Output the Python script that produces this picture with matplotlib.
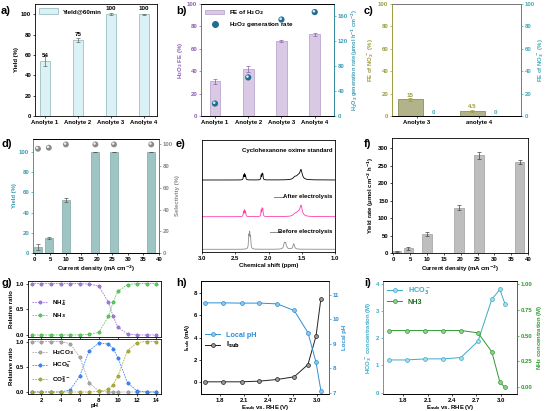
import numpy as np
import matplotlib
matplotlib.use('Agg')
import matplotlib.pyplot as plt
from matplotlib.transforms import offset_copy
from matplotlib.patches import Patch
from matplotlib.lines import Line2D

plt.rcParams['font.family'] = ['Liberation Sans', 'DejaVu Sans']
plt.rcParams['font.weight'] = 'bold'
plt.rcParams['axes.labelweight'] = 'bold'
plt.rcParams['font.size'] = 4.3
plt.rcParams['axes.linewidth'] = 0.6
plt.rcParams['xtick.major.width'] = 0.5
plt.rcParams['ytick.major.width'] = 0.5
plt.rcParams['xtick.major.size'] = 1.5
plt.rcParams['ytick.major.size'] = 1.5
plt.rcParams['xtick.major.pad'] = 1.2
plt.rcParams['ytick.major.pad'] = 1.2
plt.rcParams['axes.labelpad'] = 1.5
plt.rcParams['mathtext.default'] = 'bf'

# ---------------- data ----------------
anolytes = ['Anolyte 1', 'Anolyte 2', 'Anolyte 3', 'Anolyte 4']
yield60 = [54, 75, 100, 100]
yield60_err = [4.5, 2, 1, 0.5]
fe_h2o2 = [31, 42, 67, 73]
fe_h2o2_err = [2, 3, 1, 1.5]
h2o2_rate = [20, 62, 155, 167]

c_cats = ['Anolyte 3', 'anolyte 4']
fe_no2 = [15, 4.5]
fe_no2_err = [1.5, 0.8]
fe_no3 = [0, 0]

current_density = [1, 4.5, 10, 19.5, 25.5, 37.5]
cd_yield = [6, 15, 53, 100, 100, 100]
cd_yield_err = [3, 1, 2, 0, 0, 0]
selectivity = [96, 97, 100, 100, 100, 100]
yield_rate = [5, 13, 54, 130, 280, 261]
yield_rate_err = [2, 4, 6, 8, 9, 5]

# NMR peak lists: positions (ppm), heights, half widths
std_pos = [2.375, 2.36, 2.345, 2.11, 2.095, 2.085, 1.60, 1.55, 1.51]
std_h = [4.5, 5.5, 4.5, 4.5, 5.5, 5.0, 2.5, 3.5, 9.0]
std_w = [0.005, 0.005, 0.005, 0.005, 0.005, 0.005, 0.03, 0.03, 0.02]
aft_pos = [2.375, 2.36, 2.345, 2.11, 2.095, 2.085, 1.60, 1.55, 1.51]
aft_h = [5.0, 6.0, 5.0, 6.0, 7.0, 6.5, 2.5, 3.5, 10.0]
aft_w = [0.005, 0.005, 0.005, 0.005, 0.005, 0.005, 0.03, 0.03, 0.02]
bef_pos = [2.295, 2.283, 2.27, 1.76, 1.74, 1.62]
bef_h = [12, 14, 11, 5.5, 5.0, 5.5]
bef_w = [0.006, 0.006, 0.006, 0.013, 0.013, 0.013]
baseline_std, baseline_aft, baseline_bef = 72, 35.3, 2.7

ph = [1, 2, 3, 4, 5, 6, 7, 8, 9, 9.5, 10, 11, 12, 13, 14]
nh4 = [1, 1, 1, 1, 1, 1, 0.99, 0.95, 0.64, 0.36, 0.15, 0.02, 0, 0, 0]
nh3 = [0, 0, 0, 0, 0, 0, 0.01, 0.05, 0.36, 0.64, 0.85, 0.98, 1, 1, 1]
h2co3 = [1, 1, 1, 1, 0.96, 0.69, 0.18, 0.02, 0, 0, 0, 0, 0, 0, 0]
hco3 = [0, 0, 0, 0, 0.04, 0.31, 0.82, 0.97, 0.95, 0.86, 0.68, 0.18, 0.02, 0, 0]
co3 = [0, 0, 0, 0, 0, 0, 0, 0.01, 0.05, 0.14, 0.32, 0.82, 0.98, 1, 1]

e_sub = [1.62, 1.84, 2.07, 2.29, 2.51, 2.72, 2.89, 2.99, 3.05]
i_sub = [0, 0, 0, 0.06, 0.21, 0.45, 1.56, 4.13, 7.51]
local_ph = [10.66, 10.66, 10.65, 10.65, 10.62, 10.35, 9.45, 8.24, 7.09]
hco3_conc = [1.2, 1.2, 1.24, 1.24, 1.29, 1.89, 3.43, 3.79, 3.27]
nh3_conc = [0.548, 0.548, 0.548, 0.548, 0.548, 0.526, 0.343, 0.048, 0.0]

# ---------------- figure ----------------
W, H = 546, 411
fig = plt.figure(figsize=(W / 100, H / 100), dpi=100)


def ax_px(x0, y0, x1, y1):
    return fig.add_axes([x0 / W, 1 - y1 / H, (x1 - x0) / W, (y1 - y0) / H])


def sphere(ax, x, y, color, s=20, hl='white'):
    ax.scatter(x, y, s=s, color=color, edgecolors='none', zorder=5, clip_on=False)
    tr = offset_copy(ax.transData, fig=fig, x=-0.6, y=0.6, units='points')
    ax.scatter(x, y, s=s * 0.18, color=hl, alpha=0.85, edgecolors='none',
               zorder=6, transform=tr, clip_on=False)


def color_axis(ax, side, color):
    ax.spines[side].set_color(color)
    ax.tick_params(axis='y', colors=color)
    ax.yaxis.label.set_color(color)


def plabel(x, y, s):
    fig.text(x / W, 1 - y / H, s, fontsize=8, fontweight='bold', va='center')


# ---- a ----
axa = ax_px(35, 4, 157, 116)
xa = np.arange(len(anolytes))
axa.bar(xa, yield60, width=0.3, color='#daf2f5', edgecolor='#9cbfc2', linewidth=0.6,
        label='Yield@60min')
axa.errorbar(xa, yield60, yerr=yield60_err, fmt='none', ecolor='#666666',
             elinewidth=0.5, capsize=1.2, capthick=0.5)
for xi, v in zip(xa, yield60):
    axa.text(xi, v + 3, str(v), ha='center', va='bottom', fontsize=4.5)
axa.set_xlim(-0.3, 3.4)
axa.set_ylim(0, 110)
axa.set_yticks([0, 20, 40, 60, 80, 100])
axa.set_xticks(xa)
axa.set_xticklabels(anolytes)
axa.set_ylabel('Yield (%)')
axa.legend(loc='upper left', frameon=False, handlelength=3.0, handleheight=1.1,
           borderaxespad=0.3, fontsize=4.5)

# ---- b ----
axb = ax_px(201, 4, 334, 116)
purple = '#8b5fb5'
teal_b = '#3b9db6'
axb.bar(xa, fe_h2o2, width=0.32, color='#d9c9e4', edgecolor='#bba8cc', linewidth=0.6)
axb.errorbar(xa, fe_h2o2, yerr=fe_h2o2_err, fmt='none', ecolor=purple,
             elinewidth=0.5, capsize=1.2, capthick=0.5)
axb.set_xlim(-0.42, 3.58)
axb.set_ylim(0, 100)
axb.set_xticks(xa)
axb.set_xticklabels(anolytes)
axb.set_ylabel('H$_2$O$_2$ FE (%)')
color_axis(axb, 'left', purple)
axb2 = axb.twinx()
sphere(axb2, xa, h2o2_rate, '#1d6f93')
axb2.set_ylim(0, 180)
axb2.set_yticks([0, 40, 80, 120, 160])
axb2.set_ylabel('H$_2$O$_2$ generation rate (μmol h$^{-1}$ cm$^{-2}$)', fontsize=4.0)
color_axis(axb2, 'right', teal_b)
axb2.spines['left'].set_color(purple)
hb = [Patch(facecolor='#d9c9e4', edgecolor='#bba8cc', linewidth=0.6),
      Line2D([], [], marker='o', ls='none', color='#1d6f93', markersize=4)]
axb.legend(hb, ['FE of H$_2$O$_2$', 'H$_2$O$_2$ generation rate'], loc='upper left',
           frameon=False, fontsize=4.5, handlelength=3.0, borderaxespad=0.3)

# ---- c ----
axc = ax_px(392, 4, 521, 116)
olive = '#9b9b3e'
teal_c = '#3fa9b8'
xc = np.arange(len(c_cats))
axc.bar(xc - 0.19, fe_no2, width=0.4, color='#b3b38a', edgecolor='#8e8e5c', linewidth=0.6)
axc.errorbar(xc - 0.19, fe_no2, yerr=fe_no2_err, fmt='none', ecolor=olive,
             elinewidth=0.5, capsize=1.2, capthick=0.5)
for xi, v in zip(xc, fe_no2):
    axc.text(xi - 0.19, v + 1.5, f'{v:g}', ha='center', va='bottom', color=olive, fontsize=4.5)
axc.set_xlim(-0.48, 1.59)
axc.set_ylim(0, 100)
axc.set_xticks(xc - 0.08)
axc.set_xticklabels(c_cats)
axc.set_ylabel('FE of NO$_2^-$ (%)')
color_axis(axc, 'left', olive)
axc2 = axc.twinx()
axc2.bar(xc + 0.18, fe_no3, width=0.4, color=teal_c)
for xi, v in zip(xc, fe_no3):
    axc2.text(xi + 0.18, v + 0.5, f'{v:g}', ha='center', va='bottom', color=teal_c, fontsize=4.5)
axc2.set_ylim(0, 100)
axc2.set_ylabel('FE of NO$_3^-$ (%)', labelpad=1.0)
color_axis(axc2, 'right', teal_c)
axc2.spines['left'].set_color(olive)
axc2.spines['top'].set_color('#888888')

# ---- d ----
axd = ax_px(33, 139, 159, 253)
teal_d = '#3a9cb2'
axd.bar(current_density, cd_yield, width=2.6, color='#9ec4c4', edgecolor='#7ea6a6', linewidth=0.5)
axd.errorbar(current_density, cd_yield, yerr=cd_yield_err, fmt='none', ecolor='#555555',
             elinewidth=0.5, capsize=1.2, capthick=0.5)
axd.set_xlim(-0.6, 40)
axd.set_ylim(0, 113)
axd.set_xticks(range(0, 41, 5))
axd.set_yticks([0, 20, 40, 60, 80, 100])
axd.set_ylabel('Yield (%)')
axd.set_xlabel('Current density (mA cm$^{-2}$)')
color_axis(axd, 'left', teal_d)
axd2 = axd.twinx()
sphere(axd2, current_density, selectivity, '#8a8a8a', s=18)
axd2.set_ylim(0, 105)
axd2.set_yticks([0, 20, 40, 60, 80, 100])
axd2.set_ylabel('Selectivity (%)')
color_axis(axd2, 'right', '#888888')
axd2.spines['left'].set_color(teal_d)

# ---- e ----
axe = ax_px(202, 140, 335, 252)
ppm = np.linspace(1.0, 3.0, 4000)


def spectrum(pos, hts, wid, base):
    y = np.full_like(ppm, base)
    for p, h, w in zip(pos, hts, wid):
        y += h * w ** 2 / ((ppm - p) ** 2 + w ** 2)
    return y


axe.plot(ppm, spectrum(std_pos, std_h, std_w, baseline_std), color='black', lw=0.6)
axe.plot(ppm, spectrum(aft_pos, aft_h, aft_w, baseline_aft), color='#ff3fae', lw=0.6)
axe.plot(ppm, spectrum(bef_pos, bef_h, bef_w, baseline_bef), color='#8c8c8c', lw=0.6)
axe.set_xlim(3.0, 1.0)
axe.set_ylim(0, 112)
axe.set_yticks([])
axe.set_xticks([3.0, 2.5, 2.0, 1.5, 1.0])
axe.set_xticklabels(['3.0', '2.5', '2.0', '1.5', '1.0'])
axe.set_xlabel('Chemical shift (ppm)')
axe.text(0.98, 0.905, 'Cyclohexanone oxime standard', transform=axe.transAxes,
         ha='right', va='center', fontsize=4.3)
axe.plot([0.545, 0.62], [0.495, 0.495], transform=axe.transAxes, color='#ff3fae', lw=0.7)
axe.text(0.98, 0.495, 'After electrolysis', transform=axe.transAxes,
         ha='right', va='center', fontsize=4.3)
axe.plot([0.51, 0.585], [0.182, 0.182], transform=axe.transAxes, color='#8c8c8c', lw=0.7)
axe.text(0.98, 0.182, 'Before electrolysis', transform=axe.transAxes,
         ha='right', va='center', fontsize=4.3)

# ---- f ----
axf = ax_px(392, 138, 528, 253)
axf.bar(current_density, yield_rate, width=2.8, color='#bebebe', edgecolor='#a0a0a0', linewidth=0.5)
axf.errorbar(current_density, yield_rate, yerr=yield_rate_err, fmt='none', ecolor='#444444',
             elinewidth=0.5, capsize=1.2, capthick=0.5)
axf.set_xlim(-0.4, 40)
axf.set_ylim(0, 330)
axf.set_xticks(range(0, 41, 5))
axf.set_yticks(range(0, 301, 50))
axf.set_ylabel('Yield rate (μmol cm$^{-2}$ h$^{-1}$)')
axf.set_xlabel('Current density (mA cm$^{-2}$)')

# ---- g ----
axg1 = ax_px(28, 281, 161, 337)
axg2 = ax_px(28, 339, 161, 394)
gkw = dict(ls=(0, (2, 1.2)), lw=0.6, marker='o', markersize=2.4, markeredgewidth=0.3)
axg1.plot(ph, nh4, color='#a07ad6', mec='#7d55b5', label='NH$_4^+$', **gkw)
axg1.plot(ph, nh3, color='#5ccc5c', mec='#2f9a2f', label='NH$_3$', **gkw)
axg2.plot(ph, h2co3, color='#a8a8a8', mec='#7a7a7a', label='H$_2$CO$_3$', **gkw)
axg2.plot(ph, hco3, color='#3a86ff', mec='#1f5fd0', label='HCO$_3^-$', **gkw)
axg2.plot(ph, co3, color='#b0ad35', mec='#85821f', label='CO$_3^{2-}$', **gkw)
for ax in (axg1, axg2):
    ax.set_xlim(0.6, 14.5)
    ax.set_ylim(-0.04, 1.05)
    ax.set_yticks([0.0, 0.5, 1.0])
    ax.set_xticks([2, 4, 6, 8, 10, 12, 14])
    ax.set_ylabel('Relative ratio', labelpad=1)
    ax.legend(loc='center left', frameon=False, fontsize=4.5, handlelength=2.5,
              borderaxespad=0.2, labelspacing=0.6)
axg1.set_xticklabels([])
axg2.set_xlabel('pH', labelpad=0.3)

# ---- h ----
axh = ax_px(201, 281, 329, 394)
blue_h = '#2d8fd5'
lh1, = axh.plot(e_sub, i_sub, color='#222222', lw=0.7, marker='o', markersize=2.8,
                mfc='#9a9a9a', mec='#222222', mew=0.5)
axh.set_xlim(1.57, 3.15)
axh.set_ylim(-1.1, 9.1)
axh.set_yticks([0, 2, 4, 6, 8])
axh.set_xticks([1.8, 2.1, 2.4, 2.7, 3.0])
axh.set_ylabel('I$_{sub}$ (mA)')
axh.set_xlabel('E$_{sub}$ vs. RHE (V)', labelpad=0.3)
axh2 = axh.twinx()
lh2, = axh2.plot(e_sub, local_ph, color=blue_h, lw=0.7, marker='o', markersize=2.8,
                 mfc='#8cc6ee', mec=blue_h, mew=0.5)
axh2.set_ylim(6.95, 11.55)
axh2.set_yticks([7, 8, 9, 10, 11])
axh2.set_ylabel('Local pH')
color_axis(axh2, 'right', blue_h)
legh = axh.legend([lh2, lh1], ['Local pH', 'I$_{sub}$'], loc='center left',
                  bbox_to_anchor=(0.0, 0.47), frameon=False, fontsize=5.2,
                  handlelength=2.0, borderaxespad=0.2, labelspacing=0.2)
legh.get_texts()[0].set_color(blue_h)

# ---- i ----
axi = ax_px(383, 281, 517, 394)
teal_i = '#3aaac8'
green_i = '#2e9a30'
li1, = axi.plot(e_sub, hco3_conc, color=teal_i, lw=0.7, marker='o', markersize=2.8,
                mfc='#a8dcea', mec=teal_i, mew=0.5)
axi.set_xlim(1.55, 3.2)
axi.set_ylim(-0.05, 4.1)
axi.set_yticks([0, 1, 2, 3, 4])
axi.set_xticks([1.8, 2.1, 2.4, 2.7, 3.0])
axi.set_ylabel('HCO$_3^-$ concentration (M)')
axi.set_xlabel('E$_{sub}$ vs. RHE (V)', labelpad=0.3)
color_axis(axi, 'left', teal_i)
axi2 = axi.twinx()
li2, = axi2.plot(e_sub, nh3_conc, color=green_i, lw=0.7, marker='o', markersize=2.8,
                 mfc='#8fd08f', mec=green_i, mew=0.5)
axi2.set_ylim(-0.064, 1.026)
axi2.set_yticks([0, 0.25, 0.5, 0.75, 1.0])
axi2.set_yticklabels(['0.00', '0.25', '0.50', '0.75', '1.00'])
axi2.set_ylabel('NH$_3$ concentration (M)')
color_axis(axi2, 'right', green_i)
axi2.spines['left'].set_color(teal_i)
legi = axi.legend([li1, li2], ['HCO$_3^-$', 'NH3'], loc='upper left', frameon=False,
                  fontsize=5.2, handlelength=2.0, borderaxespad=0.2, labelspacing=0.3)
legi.get_texts()[0].set_color(teal_i)
legi.get_texts()[1].set_color('#1f6b20')

# panel labels
plabel(1, 11, 'a)')
plabel(176, 11, 'b)')
plabel(364, 11, 'c)')
plabel(1, 144, 'd)')
plabel(176, 144, 'e)')
plabel(364, 144, 'f)')
plabel(1, 283, 'g)')
plabel(176, 283, 'h)')
plabel(364, 283, 'i)')

fig.savefig('out.png', dpi=100)
